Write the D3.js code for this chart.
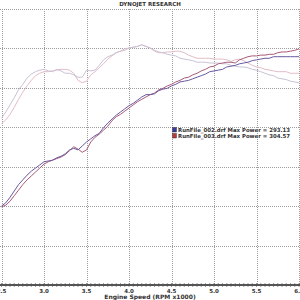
<!DOCTYPE html>
<html><head><meta charset="utf-8">
<script src="https://cdn.jsdelivr.net/npm/d3@7"></script>
<style>html,body{margin:0;padding:0;background:#fff;}svg{display:block;}</style>
</head><body>
<script>
const rpm = d3.range(0, 71).map(i => +(2.5 + i * 0.05).toFixed(2));
const powerBlue = [100,104,111,119,127,133,139,144,148,152,156,157,158,161,163,166,171,173,171,176,181,185,189,192,199,205,210,215,219,223,227,230,234,238,241,241,242,246,248,249,252,254,257,258,259,261,263,265,267,270,271,272,273,276,277,278,280,281,282,284,285,286,287,287,289,289,289,289,289,289,289];
const powerRed = [99,101,106,113,120,127,133,138,143,148,153,156,158,160,162,165,170,175,172,168,171,181,187,191,196,201,208,213,216,220,224,228,232,235,238,241,243,247,249,252,254,257,259,262,263,266,268,271,273,276,277,280,281,282,282,281,285,287,289,290,290,291,291,292,292,294,295,295,296,297,299];
const torqueBlue = [211,219,228,237,247,254,262,267,270,272,273,271,270,273,271,268,268,266,263,263,272,271,272,278,285,289,291,294,296,299,300,301,302,304,302,300,297,295,294,292,291,290,287,286,285,284,282,282,282,281,281,281,280,280,278,277,276,276,275,273,272,270,268,266,265,262,261,260,258,257,256];
const torqueRed = [204,209,216,225,235,244,252,259,265,268,270,270,271,272,273,273,272,268,259,256,258,266,270,275,280,286,290,294,296,297,300,301,302,304,302,300,296,294,294,295,295,296,296,294,291,289,287,287,287,287,286,286,286,285,283,285,286,284,281,278,276,275,273,272,271,270,270,270,268,268,268];
const xTicks = [2.5,3.0,3.5,4.0,4.5,5.0,5.5,6.0];
const yGrid = [50,100,150,200,250,300,350];
const legendLabels = ["RunFile_002.drf Max Power = 293.13","RunFile_003.drf Max Power = 304.57"];
const legendColors = ["#3a3a9c","#b83a3a"];

const W = 300, H = 300;
const svg = d3.select("body").append("svg").attr("width", W).attr("height", H);
const x = d3.scaleLinear().domain([2.5, 6.0]).range([1.5, 299]);
const y = d3.scaleLinear().domain([0, 350]).range([285, 8.5]);

// title
svg.append("text").attr("x", 150).attr("y", 6.3).attr("text-anchor", "middle")
  .attr("font-family", "DejaVu Sans").attr("font-weight", "bold").attr("font-size", 5.5)
  .attr("fill", "#333").text("DYNOJET RESEARCH");

// grid
const grid = svg.append("g").attr("stroke", "#9c9c9c").attr("stroke-width", 1).attr("stroke-dasharray", "1,1")
  .attr("shape-rendering", "crispEdges");
grid.selectAll("line.h").data(yGrid).join("line").attr("class","h")
  .attr("x1", 0).attr("x2", W).attr("y1", d => Math.round(y(d)) + 0.5).attr("y2", d => Math.round(y(d)) + 0.5);
grid.selectAll("line.v").data(xTicks).join("line").attr("class","v")
  .attr("x1", d => Math.round(x(d)) + 0.5).attr("x2", d => Math.round(x(d)) + 0.5).attr("y1", y(350)).attr("y2", y(0));

// lines
svg.append("clipPath").attr("id","clip").append("rect").attr("x",0).attr("y",y(350)).attr("width",W).attr("height",y(0)-y(350));
const line = vals => d3.line().x((d,i) => x(rpm[i])).y(d => y(d))(vals);
const g = svg.append("g").attr("clip-path","url(#clip)").attr("fill","none");
g.append("path").attr("d", line(torqueRed)).attr("stroke", "#e3bcc6").attr("stroke-width", 1);
g.append("path").attr("d", line(torqueBlue)).attr("stroke", "#c9c2d6").attr("stroke-width", 1);
g.append("path").attr("d", line(powerRed)).attr("stroke", "#a85a78").attr("stroke-width", 1);
g.append("path").attr("d", line(powerBlue)).attr("stroke", "#6a5aa0").attr("stroke-width", 1);

// x axis
const ax = svg.append("g");
ax.append("line").attr("x1", 0).attr("x2", W).attr("y1", 285).attr("y2", 285).attr("stroke", "#555").attr("stroke-width", 2);
const minor = d3.range(0, 71).map(i => 2.5 + i * 0.05);
ax.selectAll("line.mt").data(minor).join("line").attr("class","mt")
  .attr("x1", d => x(d)).attr("x2", d => x(d)).attr("y1", 283).attr("y2", 287).attr("stroke", "#555").attr("stroke-width", 0.6);
ax.selectAll("text").data(xTicks).join("text")
  .attr("x", d => x(d)).attr("y", 292.5).attr("text-anchor", "middle")
  .attr("font-family", "DejaVu Sans").attr("font-weight", "bold").attr("font-size", 5.5).attr("fill", "#333")
  .text(d => d.toFixed(1));
svg.append("text").attr("x", 150).attr("y", 298.5).attr("text-anchor", "middle")
  .attr("font-family", "DejaVu Sans").attr("font-weight", "bold").attr("font-size", 6).attr("fill", "#333")
  .text("Engine Speed (RPM x1000)");

// legend
const lg = svg.append("g");
legendLabels.forEach((t, i) => {
  lg.append("rect").attr("x", 172.5).attr("y", 127.5 + i * 6).attr("width", 4).attr("height", 4.5)
    .attr("fill", legendColors[i]).attr("stroke", "#222").attr("stroke-width", 0.4);
  lg.append("text").attr("x", 178).attr("y", 132 + i * 6)
    .attr("font-family", "DejaVu Sans").attr("font-weight", "bold").attr("font-size", 5.4).attr("fill", "#333")
    .text(t);
});
</script>
</body></html>
